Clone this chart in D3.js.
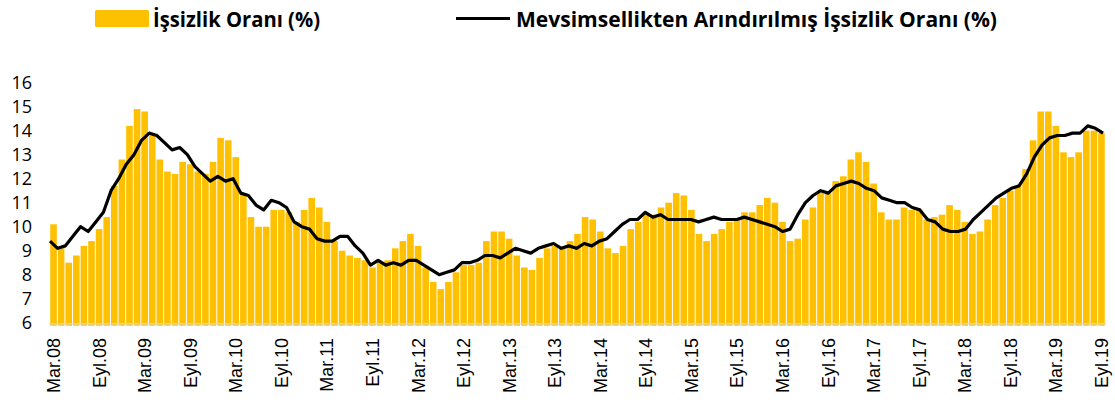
<!DOCTYPE html>
<meta charset="utf-8">
<head>
<style>
  body { margin: 0; background: #fff; }
  .legend text { font-family: "Open Sans", sans-serif; font-weight: 700; font-size: 21px; fill: #000; }
  .ytick { font-family: "Open Sans", sans-serif; font-size: 18px; fill: #000; }
  .xtick { font-family: "Liberation Sans", Arial, sans-serif; font-size: 18px; fill: #000; }
</style>
<script src="https://d3js.org/d3.v7.min.js"></script>
</head>
<body>
<svg width="1115" height="403"></svg>
<script>
// İşsizlik oranı (%), aylık, Mar.08 - Eyl.19
var rate = [
  10.1, 9.1, 8.5, 8.8, 9.2, 9.4, 9.9, 10.4, 11.7, 12.8, 14.2, 14.9, 14.8, 13.8, 12.8, 12.3, 12.2, 12.7, 12.6, 12.3,
  12.2, 12.7, 13.7, 13.6, 12.9, 11.4, 10.4, 10.0, 10.0, 10.7, 10.7, 10.6, 10.2, 10.7, 11.2, 10.8, 10.2, 9.4, 9.0, 8.8, 8.7, 8.6, 8.3, 8.5,
  8.6, 9.1, 9.4, 9.7, 9.2, 8.3, 7.7, 7.4, 7.7, 8.1, 8.4, 8.4, 8.5, 9.4, 9.8, 9.8, 9.5, 8.8, 8.3, 8.2, 8.7, 9.1, 9.2,
  9.1, 9.4, 9.7, 10.4, 10.3, 9.8, 9.1, 8.9, 9.2, 9.9, 10.2, 10.5, 10.5, 10.8, 11.0, 11.4, 11.3, 10.7, 9.7, 9.4, 9.7, 9.9, 10.2, 10.3,
  10.6, 10.6, 10.9, 11.2, 11.0, 10.2, 9.4, 9.5, 10.3, 10.8, 11.4, 11.4, 11.9, 12.1, 12.8, 13.1, 12.7, 11.8, 10.6, 10.3, 10.3, 10.8, 10.7, 10.7,
  10.3, 10.4, 10.5, 10.9, 10.7, 10.2, 9.7, 9.8, 10.3, 10.9, 11.2, 11.5, 11.7, 12.4, 13.6, 14.8, 14.8, 14.2, 13.1, 12.9, 13.1, 14.0, 14.0, 13.9
];
// Mevsimsellikten arındırılmış işsizlik oranı (%)
var rateSA = [
  9.4, 9.1, 9.2, 9.6, 10.0, 9.8, 10.2, 10.6, 11.5, 12.0, 12.6, 13.0, 13.6, 13.9, 13.8, 13.5, 13.2, 13.3, 13.0, 12.5,
  12.2, 11.9, 12.1, 11.9, 12.0, 11.4, 11.3, 10.9, 10.7, 11.1, 11.0, 10.8, 10.2, 10.0, 9.9, 9.5, 9.4, 9.4, 9.6, 9.6, 9.2, 8.9, 8.4, 8.6,
  8.4, 8.5, 8.4, 8.6, 8.6, 8.4, 8.2, 8.0, 8.1, 8.2, 8.5, 8.5, 8.6, 8.8, 8.8, 8.7, 8.9, 9.1, 9.0, 8.9, 9.1, 9.2, 9.3,
  9.1, 9.2, 9.1, 9.3, 9.2, 9.4, 9.5, 9.8, 10.1, 10.3, 10.3, 10.6, 10.4, 10.5, 10.3, 10.3, 10.3, 10.3, 10.2, 10.3, 10.4, 10.3, 10.3, 10.3,
  10.4, 10.3, 10.2, 10.1, 10.0, 9.8, 9.9, 10.5, 11.0, 11.3, 11.5, 11.4, 11.7, 11.8, 11.9, 11.8, 11.6, 11.5, 11.2, 11.1, 11.0, 11.0, 10.8, 10.7,
  10.3, 10.2, 9.9, 9.8, 9.8, 9.9, 10.3, 10.6, 10.9, 11.2, 11.4, 11.6, 11.7, 12.2, 12.9, 13.4, 13.7, 13.8, 13.8, 13.9, 13.9, 14.2, 14.1, 13.9
];
var tickLabels = ["Mar.08","Eyl.08","Mar.09","Eyl.09","Mar.10","Eyl.10","Mar.11","Eyl.11","Mar.12","Eyl.12",
  "Mar.13","Eyl.13","Mar.14","Eyl.14","Mar.15","Eyl.15","Mar.16","Eyl.16","Mar.17","Eyl.17",
  "Mar.18","Eyl.18","Mar.19","Eyl.19"];
var yTicks = [6, 7, 8, 9, 10, 11, 12, 13, 14, 15, 16];

var svg = d3.select("svg");
var months = d3.range(rate.length);

var x = d3.scaleBand().domain(months).range([50, 1105]).paddingInner(0.13).paddingOuter(0.03);
var xl = d3.scalePoint().domain(months).range([50, 1103]);
var y = d3.scaleLinear().domain([6, 16]).range([322.7, 82.7]);

// bars
svg.append("g")
  .selectAll("rect")
  .data(rate)
  .enter().append("rect")
    .attr("x", function(d, i) { return x(i); })
    .attr("width", x.bandwidth())
    .attr("y", function(d) { return y(d); })
    .attr("height", function(d) { return y(6) + 3 - y(d); })
    .attr("fill", "#FFC000");

// axis line
svg.append("line")
  .attr("x1", 49).attr("x2", 1106)
  .attr("y1", y(6) + 1).attr("y2", y(6) + 1)
  .attr("stroke", "#d9d9d9").attr("stroke-width", 1.5);

// seasonally adjusted line
var line = d3.line()
  .x(function(d, i) { return xl(i); })
  .y(function(d) { return y(d); });
svg.append("path")
  .datum(rateSA)
  .attr("d", line)
  .attr("fill", "none")
  .attr("stroke", "#000")
  .attr("stroke-width", 3.2)
  .attr("stroke-linejoin", "round");

// y labels
svg.append("g")
  .selectAll("text")
  .data(yTicks)
  .enter().append("text")
    .attr("class", "ytick")
    .attr("x", 32)
    .attr("y", function(d) { return y(d); })
    .attr("dy", "0.36em")
    .attr("text-anchor", "end")
    .text(function(d) { return d; });

// x labels, every 6 months
svg.append("g")
  .selectAll("text")
  .data(tickLabels)
  .enter().append("text")
    .attr("class", "xtick")
    .attr("text-anchor", "end")
    .attr("transform", function(d, i) {
      var cx = x(i * 6) + x.bandwidth() / 2;
      return "translate(" + (cx + 6.5) + ",338) rotate(-90)";
    })
    .text(function(d) { return d; });

// legend
var lg = svg.append("g").attr("class", "legend");
lg.append("rect")
  .attr("x", 95).attr("y", 10).attr("width", 54).attr("height", 17)
  .attr("rx", 1.5)
  .attr("fill", "#FFC000");
lg.append("text")
  .attr("x", 153).attr("y", 27)
  .attr("textLength", 167).attr("lengthAdjust", "spacingAndGlyphs")
  .text("İşsizlik Oranı (%)");
lg.append("line")
  .attr("x1", 456).attr("x2", 510).attr("y1", 18.5).attr("y2", 18.5)
  .attr("stroke", "#000").attr("stroke-width", 3.2);
lg.append("text")
  .attr("x", 516).attr("y", 27)
  .attr("textLength", 481).attr("lengthAdjust", "spacingAndGlyphs")
  .text("Mevsimsellikten Arındırılmış İşsizlik Oranı (%)");
</script>
</body>
